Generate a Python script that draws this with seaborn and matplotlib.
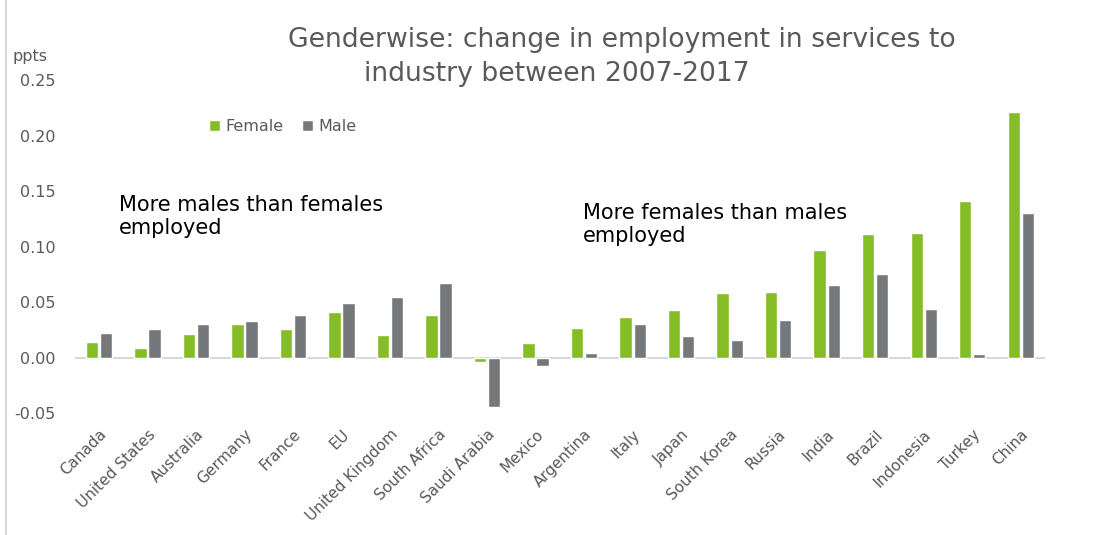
import matplotlib
matplotlib.use("Agg")
import matplotlib.pyplot as plt
from matplotlib.lines import Line2D
import seaborn as sns
import pandas as pd

countries = ["Canada", "United States", "Australia", "Germany", "France", "EU",
             "United Kingdom", "South Africa", "Saudi Arabia", "Mexico", "Argentina",
             "Italy", "Japan", "South Korea", "Russia", "India", "Brazil",
             "Indonesia", "Turkey", "China"]
female = [0.014, 0.009, 0.021, 0.030, 0.026, 0.041, 0.020, 0.038, -0.004, 0.013,
          0.027, 0.037, 0.043, 0.058, 0.059, 0.097, 0.111, 0.112, 0.141, 0.221]
male = [0.022, 0.026, 0.030, 0.033, 0.038, 0.049, 0.055, 0.067, -0.045, -0.008,
        0.004, 0.030, 0.019, 0.016, 0.034, 0.065, 0.075, 0.044, 0.003, 0.130]
yticks = [-0.05, 0.00, 0.05, 0.10, 0.15, 0.20, 0.25]

GREEN = "#84BD26"
GREY = "#75787B"
TXT = "#595959"

df = pd.DataFrame({
    "country": countries * 2,
    "value": female + male,
    "sex": ["Female"] * len(countries) + ["Male"] * len(countries),
})

sns.set_style("white")
plt.rcParams["font.sans-serif"] = ["DejaVu Sans"]
plt.rcParams["font.family"] = ["DejaVu Sans"]

fig = plt.figure(figsize=(11, 5.35), dpi=100)
ax = fig.add_axes([0.068, 0.228, 0.882, 0.622])

sns.barplot(data=df, x="country", y="value", hue="sex", order=countries,
            hue_order=["Female", "Male"], palette=[GREEN, GREY], saturation=1,
            width=0.58, gap=0.12, ax=ax, legend=True)

ax.set_xlim(-0.5, len(countries) - 0.5)
ax.set_ylim(-0.05, 0.25)
ax.set_yticks(yticks)
ax.set_yticklabels([f"{t:.2f}" for t in yticks], color=TXT, fontsize=11.5)
ax.tick_params(axis="both", length=0)
ax.tick_params(axis="y", pad=14)
ax.set_xticks(range(len(countries)))
ax.set_xticklabels(countries, rotation=45, ha="right", rotation_mode="anchor",
                   color=TXT, fontsize=11)
ax.tick_params(axis="x", pad=10)
ax.set_xlabel("")
ax.set_ylabel("")
for s in ax.spines.values():
    s.set_visible(False)
ax.axhline(0, color="#D9D9D9", lw=1.5, zorder=0.5)

ax.legend(loc="center", bbox_to_anchor=(0.257, 0.763), bbox_transform=fig.transFigure,
          ncol=2, frameon=False, handlelength=0.7, handleheight=0.7,
          handletextpad=0.3, columnspacing=1.2, labelcolor=TXT,
          prop={"size": 11.5})

fig.text(0.565, 0.925, "Genderwise: change in employment in services to",
         ha="center", va="center", fontsize=19.2, color=TXT)
fig.text(0.506, 0.862, "industry between 2007-2017",
         ha="center", va="center", fontsize=19.2, color=TXT)
fig.text(0.011, 0.895, "ppts", ha="left", va="center", fontsize=11.5, color=TXT)

fig.text(0.108, 0.596, "More males than females\nemployed", ha="left", va="center",
         fontsize=15, color="black", linespacing=1.2)
fig.text(0.530, 0.581, "More females than males\nemployed", ha="left", va="center",
         fontsize=15, color="black", linespacing=1.2)

fig.add_artist(Line2D([0.005, 0.005], [0.0, 1.0], color="#D9D9D9", lw=1.5,
                      transform=fig.transFigure))

fig.savefig("out.png", dpi=100)
